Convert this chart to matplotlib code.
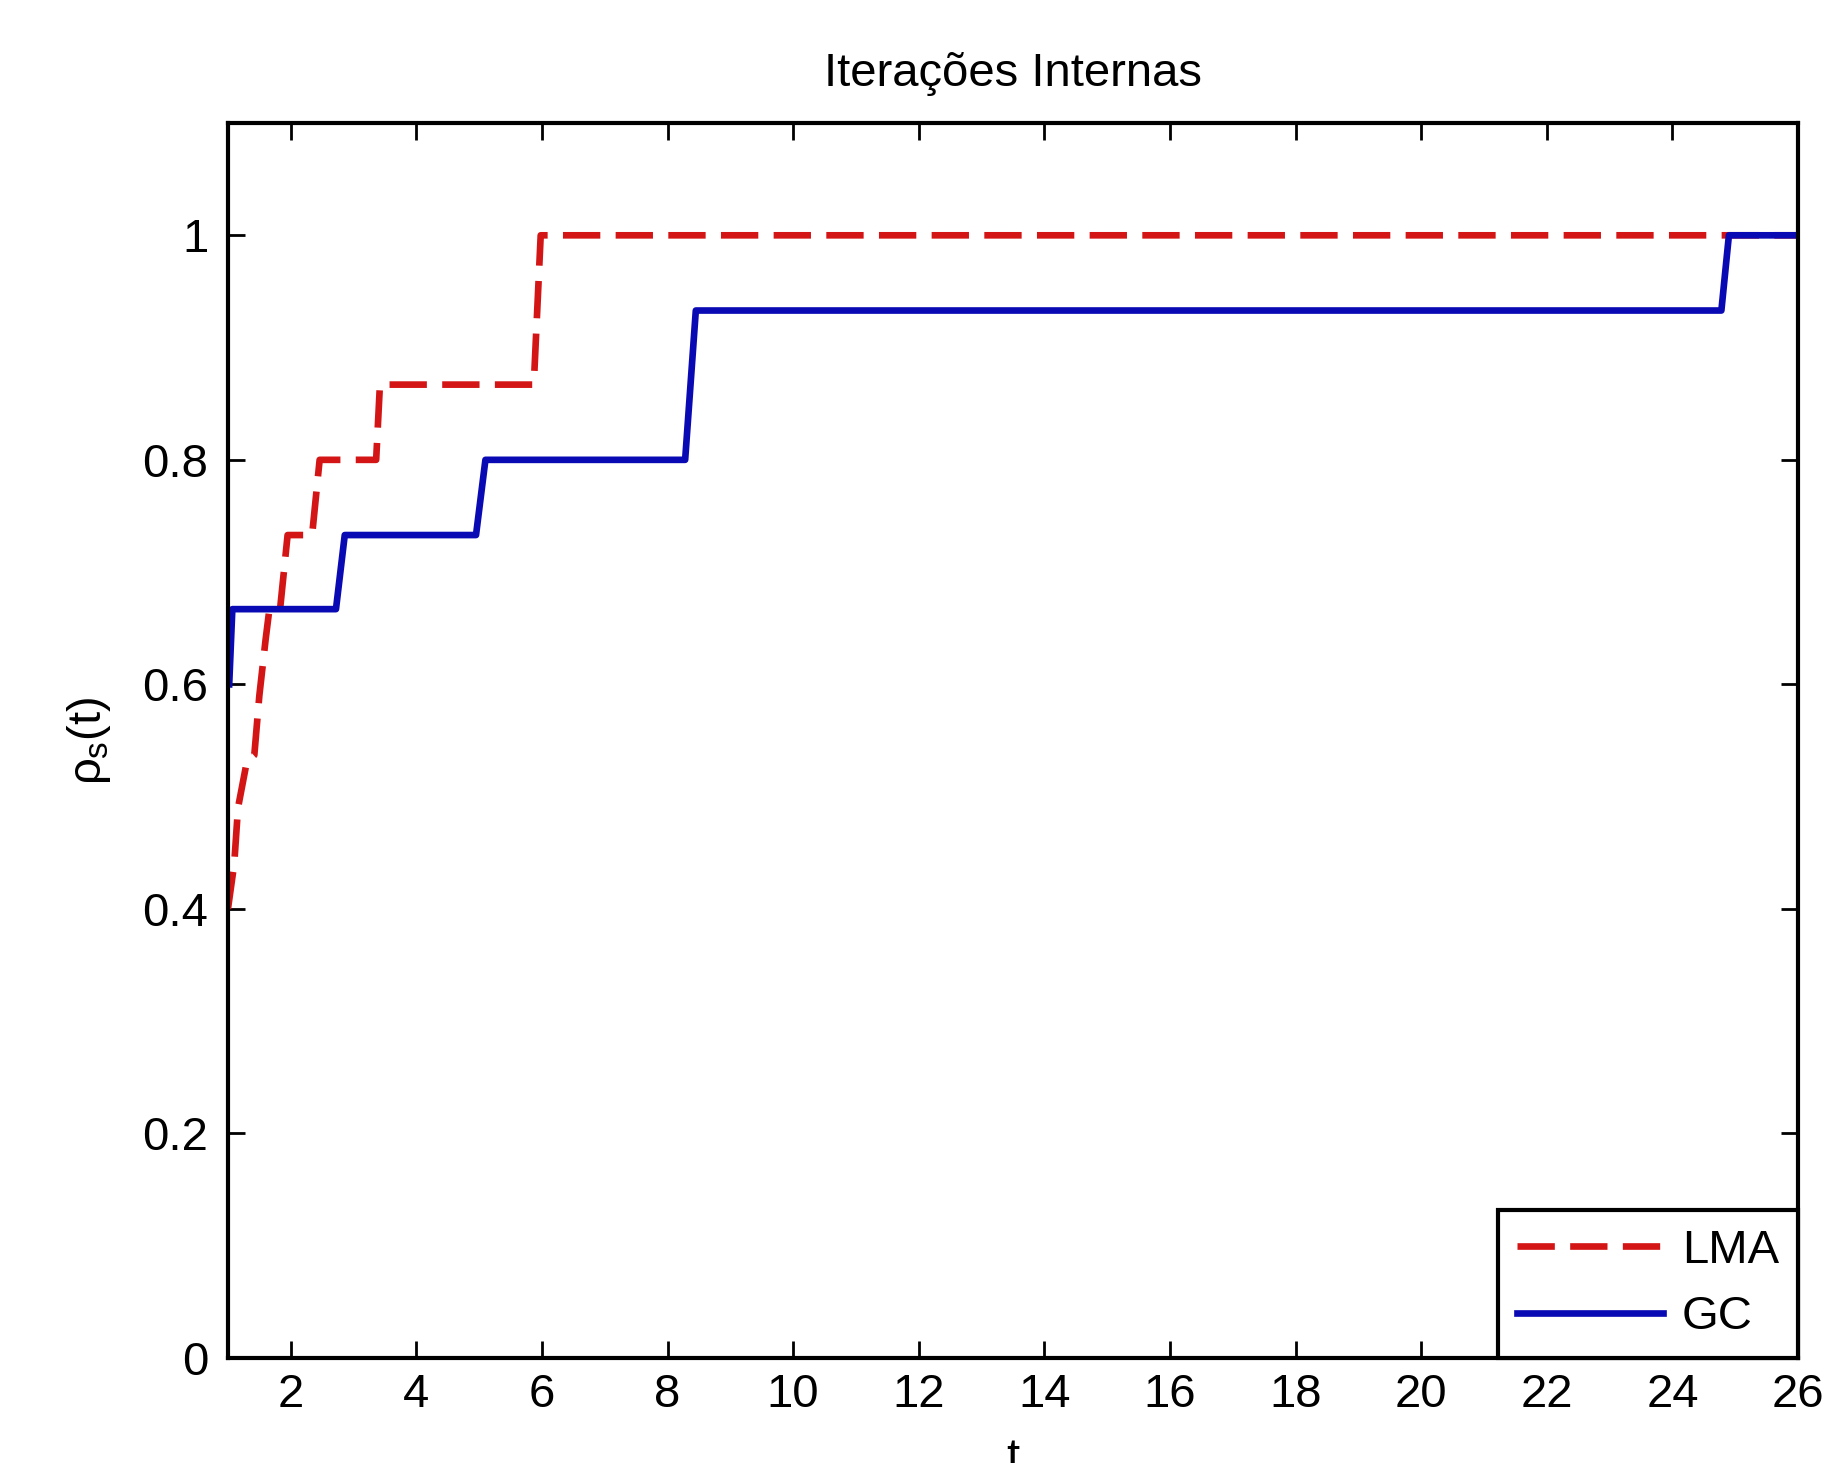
import matplotlib
matplotlib.use("Agg")
import matplotlib.pyplot as plt

# performance profile (t, rho_s(t))
lma_t = [1.00, 1.10, 1.16, 1.30, 1.42, 1.50, 1.60, 1.66, 1.83, 1.95, 2.34, 2.46, 3.36, 3.42, 5.87, 5.98, 26.0]
lma_rho = [0.400, 0.440, 0.490, 0.531, 0.537, 0.590, 0.640, 0.667, 0.667, 0.733, 0.733, 0.800, 0.800, 0.867, 0.867, 1.000, 1.000]

gc_t = [1.02, 1.07, 2.72, 2.86, 4.95, 5.10, 8.28, 8.45, 24.78, 24.90, 26.0]
gc_rho = [0.600, 0.667, 0.667, 0.733, 0.733, 0.800, 0.800, 0.933, 0.933, 1.000, 1.000]

xticks = list(range(2, 27, 2))
yticks = [0, 0.2, 0.4, 0.6, 0.8, 1.0]
ytick_labels = ['0', '0.2', '0.4', '0.6', '0.8', '1']

plt.rcParams['font.family'] = ['Liberation Sans', 'DejaVu Sans']
plt.rcParams['mathtext.fontset'] = 'custom'
plt.rcParams['mathtext.rm'] = 'Liberation Sans'
plt.rcParams['mathtext.it'] = 'Liberation Sans'
plt.rcParams['mathtext.sf'] = 'Liberation Sans'

fs = 34

fig = plt.figure(figsize=(18.25, 14.63), dpi=100)
ax = fig.add_axes([0.1249, 0.0718, 0.8603, 0.8441])

ax.plot(lma_t, lma_rho, color='#d41515', lw=4.8, dashes=(5.6, 2.3),
        dash_capstyle='butt', label='LMA')
ax.plot(gc_t, gc_rho, color='#0a0ab4', lw=4.8, label='GC')

ax.set_xlim(1, 26)
ax.set_ylim(0, 1.1)
ax.set_xticks(xticks)
ax.set_xticklabels([str(v) for v in xticks])
ax.set_yticks(yticks)
ax.set_yticklabels(ytick_labels)

for s in ax.spines.values():
    s.set_linewidth(3.0)
    s.set_color('black')

ax.tick_params(axis='both', which='both', direction='in', length=12, width=2,
               top=True, right=True, labelsize=fs, colors='black')
ax.tick_params(axis='x', pad=11)
ax.tick_params(axis='y', pad=14)

ax.set_title('Iterações Internas', fontsize=fs, pad=27)
ax.set_xlabel('t', fontsize=fs)
ax.xaxis.set_label_coords(0.5, -0.064)
ax.set_ylabel(r'$\rho_s(t)$', fontsize=fs)
ax.yaxis.set_label_coords(-0.073, 0.5)

leg = ax.legend(loc='lower right', borderaxespad=0, fontsize=fs,
                handlelength=3.1, handletextpad=0.4, labelspacing=0.47,
                borderpad=0.4, fancybox=False, framealpha=1)
leg.get_frame().set_edgecolor('black')
leg.get_frame().set_linewidth(3.0)

fig.savefig('out.png', dpi=100)
